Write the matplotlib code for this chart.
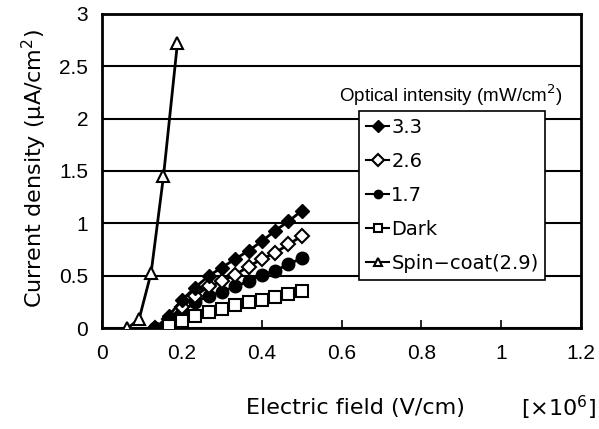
import matplotlib
matplotlib.use("Agg")
import matplotlib.pyplot as plt

plt.rcParams['font.family'] = ['Liberation Sans', 'DejaVu Sans']

# electric field (x10^6 V/cm)
field = [0.133, 0.167, 0.2, 0.233, 0.267, 0.3, 0.333, 0.367, 0.4, 0.433, 0.467, 0.5]
field_dark = [0.167, 0.2, 0.233, 0.267, 0.3, 0.333, 0.367, 0.4, 0.433, 0.467, 0.5]
field_spin = [0.063, 0.093, 0.123, 0.154, 0.189]

# current density (uA/cm^2)
j_33 = [0, 0.12, 0.27, 0.39, 0.50, 0.58, 0.66, 0.74, 0.83, 0.93, 1.02, 1.12]
j_26 = [0, 0.09, 0.20, 0.31, 0.40, 0.45, 0.51, 0.59, 0.66, 0.72, 0.80, 0.88]
j_17 = [0, 0.07, 0.16, 0.25, 0.31, 0.35, 0.40, 0.45, 0.51, 0.55, 0.61, 0.67]
j_dark = [0.025, 0.07, 0.115, 0.16, 0.19, 0.22, 0.255, 0.27, 0.30, 0.33, 0.36]
j_spin = [0, 0.09, 0.53, 1.45, 2.72]

labels = ["3.3", "2.6", "1.7", "Dark", "Spin\u2212coat(2.9)"]
xticks = [0, 0.2, 0.4, 0.6, 0.8, 1.0, 1.2]
xticklabels = ["0", "0.2", "0.4", "0.6", "0.8", "1", "1.2"]
yticks = [0, 0.5, 1, 1.5, 2, 2.5, 3]
yticklabels = ["0", "0.5", "1", "1.5", "2", "2.5", "3"]

fig = plt.figure(figsize=(5.99, 4.29), dpi=100)
ax = fig.add_axes([0.1703, 0.2343, 0.7997, 0.7342])

lw = 2
ax.plot(field, j_33, color='k', lw=lw, marker='D', ms=7, mfc='k', mec='k', label=labels[0], zorder=5)
ax.plot(field, j_26, color='k', lw=lw, marker='D', ms=7, mfc='white', mec='k', mew=1.5, label=labels[1], zorder=4)
ax.plot(field, j_17, color='k', lw=lw, marker='o', ms=9, mfc='k', mec='k', label=labels[2], zorder=3)
ax.plot(field_dark, j_dark, color='k', lw=lw, marker='s', ms=9, mfc='white', mec='k', mew=1.5, label=labels[3], zorder=6)
ax.plot(field_spin, j_spin, color='k', lw=lw, marker='^', ms=8, mfc='white', mec='k', mew=1.5, label=labels[4], zorder=6)

ax.set_xlim(0, 1.2)
ax.set_ylim(0, 3)
ax.set_xticks(xticks)
ax.set_xticklabels(xticklabels, fontsize=15)
ax.set_yticks(yticks)
ax.set_yticklabels(yticklabels, fontsize=15)
ax.tick_params(axis='x', direction='in', length=6, width=1.2, pad=11)
ax.tick_params(axis='y', length=0, pad=10)
ax.yaxis.grid(True, color='k', lw=1.5)
ax.set_axisbelow(True)
for s in ax.spines.values():
    s.set_linewidth(2)

fig.text(0.057, 0.608, "Current density (\u03bcA/cm$^2$)", rotation=90,
         ha='center', va='center', fontsize=16, family='DejaVu Sans')
fig.text(0.594, 0.049, "Electric field (V/cm)", ha='center', va='center',
         fontsize=16, family='DejaVu Sans')
fig.text(0.933, 0.049, "[\u00d710$^6$]", ha='center', va='center',
         fontsize=16, family='DejaVu Sans')

leg = ax.legend(loc='upper left', bbox_to_anchor=(0.537, 0.6914), frameon=True,
                fancybox=False, prop={'family': 'DejaVu Sans', 'size': 14},
                handlelength=1.2, handletextpad=0.1, labelspacing=0.78,
                borderpad=0.35, borderaxespad=0)
leg.get_frame().set_edgecolor('k')
leg.get_frame().set_linewidth(1.2)
leg.get_frame().set_alpha(1)
leg.set_zorder(10)
for h in leg.legend_handles:
    h.set_markersize(6)
    h.set_linewidth(1.5)

fig.text(0.753, 0.779, "Optical intensity (mW/cm$^2$)", ha='center', va='center',
         fontsize=13.5)

fig.savefig("out.png", dpi=100)
